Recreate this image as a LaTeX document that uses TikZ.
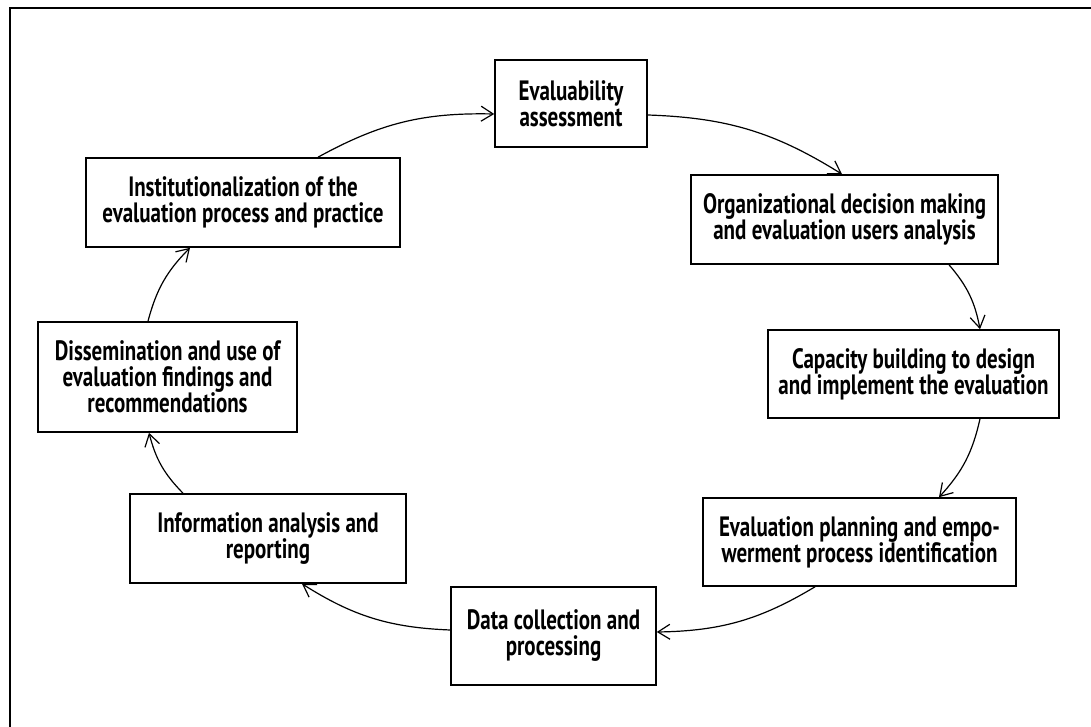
\documentclass[tikz,border=0pt]{standalone}
\usepackage{fontspec}
\setmainfont{PT Sans}[FakeStretch=0.75]
\usepackage{tikz}
\usetikzlibrary{arrows.meta, positioning}
\tikzset{
  % Box styles
  cyclebox/.style={rectangle, draw=black, line width=1.6pt, inner sep=0pt, align=center, font=\fontsize{28}{26}\selectfont\bfseries},
  % Arrow styles
  cyclearrow/.style={-{Straight Barb[length=12pt,width=15pt]}, line width=1.2pt, black, bend left=15},
  frameline/.style={line width=1.6pt, black}
}

\begin{document}
\begin{tikzpicture}[x=1pt, y=-1pt]
  \useasboundingbox (0,0) rectangle (1091,727);

  % Outer frame
  \draw[frameline] (10,727) -- (10,8) -- (1091,8);

  % Cycle stages
  \node[cyclebox, minimum width=152pt, minimum height=87pt] (evalassess) at (571,103.5) {Evaluability\\assessment};
  \node[cyclebox, minimum width=307pt, minimum height=89pt] (orgdecision) at (844.5,219.5) {Organizational decision making\\and evaluation users analysis};
  \node[cyclebox, minimum width=291pt, minimum height=88pt] (capacity) at (913.5,374) {Capacity building to design\\and implement the evaluation};
  \node[cyclebox, minimum width=313pt, minimum height=88pt] (planning) at (859.5,542) {Evaluation planning and empo-\\werment process identification};
  \node[cyclebox, minimum width=205pt, minimum height=98pt] (datacoll) at (553.5,636) {Data collection and\\processing};
  \node[cyclebox, minimum width=276pt, minimum height=89pt] (infoanalysis) at (268,538.5) {Information analysis and\\reporting};
  \node[cyclebox, minimum width=259pt, minimum height=110pt] (dissem) at (167.5,377) {Dissemination and use of\\evaluation findings and\\recommendations};
  \node[cyclebox, minimum width=314pt, minimum height=89pt] (institution) at (243,202.5) {Institutionalization of the\\evaluation process and practice};

  % Cycle arrows
  \draw[cyclearrow] ([xshift=75pt]institution.north) to ([yshift=-10.5pt]evalassess.west);
  \draw[cyclearrow] ([yshift=-11.5pt]evalassess.east) to ([xshift=-2.5pt]orgdecision.north);
  \draw[cyclearrow] ([xshift=104.5pt]orgdecision.south) to ([xshift=66.5pt]capacity.north);
  \draw[cyclearrow] ([xshift=66.5pt]capacity.south) to ([xshift=79.5pt]planning.north);
  \draw[cyclearrow] ([xshift=-44.5pt]planning.south) to ([yshift=4pt]datacoll.east);
  \draw[cyclearrow] ([yshift=6pt]datacoll.west) to ([xshift=34pt]infoanalysis.south);
  \draw[cyclearrow] ([xshift=-85pt]infoanalysis.north) to ([xshift=-18.5pt]dissem.south);
  \draw[cyclearrow] ([xshift=-19.5pt]dissem.north) to ([xshift=-53pt]institution.south);
\end{tikzpicture}
\end{document}
